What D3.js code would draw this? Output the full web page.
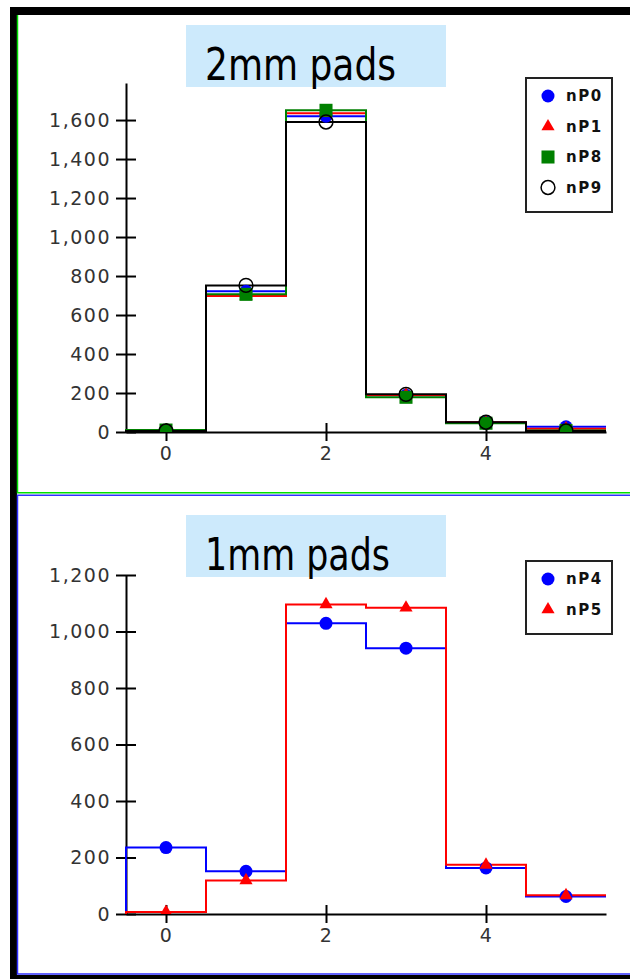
<!DOCTYPE html>
<html>
<head>
<meta charset="utf-8">
<script src="https://cdn.jsdelivr.net/npm/d3@7"></script>
<style>
  body { margin: 0; background: #fff; }
  svg { display: block; }
  .tick text { font-family: "DejaVu Sans", sans-serif; font-size: 19px; fill: #333; letter-spacing: 1.5px; }
  .legend text { font-family: "DejaVu Sans", sans-serif; font-weight: bold; font-size: 15px; letter-spacing: 1.5px; fill: #111; }
</style>
</head>
<body>
<svg width="630" height="979"></svg>
<script>
// bin centres and tick labels
const bins = [0, 1, 2, 3, 4, 5];
const xTicks = [0, 2, 4];
const topTicks = [0, 200, 400, 600, 800, 1000, 1200, 1400, 1600];
const bottomTicks = [0, 200, 400, 600, 800, 1000, 1200];

// 2mm pads
const nP0 = [5, 722, 1620, 188, 50, 27];
const nP1 = [5, 697, 1635, 190, 50, 17];
const nP8 = [10, 706, 1650, 178, 45, 8];
const nP9 = [5, 752, 1590, 193, 50, 5];

// 1mm pads
const nP4 = [235, 151, 1029, 941, 163, 62];
const nP5 = [7, 119, 1096, 1084, 174, 66];

const svg = d3.select('svg');

// outer frame
svg.append('rect').attr('x', 10).attr('y', 7).attr('width', 620).attr('height', 8).attr('fill', '#000');
svg.append('rect').attr('x', 10).attr('y', 7).attr('width', 7).attr('height', 972).attr('fill', '#000');
svg.append('rect').attr('x', 10).attr('y', 975).attr('width', 620).attr('height', 4).attr('fill', '#000');
svg.append('path').attr('d', 'M17.5,15V492.7H630').attr('fill', 'none').attr('stroke', '#00e000').attr('stroke-width', 1.5);
svg.append('path').attr('d', 'M630,495.3H17.5V974H630').attr('fill', 'none').attr('stroke', '#3030ff').attr('stroke-width', 1.5);

const symbolOf = {
  circle: d3.symbol().type(d3.symbolCircle).size(133),
  triangle: d3.symbol().type(d3.symbolTriangle).size(75),
  square: d3.symbol().type(d3.symbolSquare).size(170),
  ring: d3.symbol().type(d3.symbolCircle).size(150)
};

function drawMarker(g, shape, color) {
  return g.append('path')
    .attr('d', symbolOf[shape]())
    .attr('fill', shape === 'ring' ? 'none' : color)
    .attr('stroke', shape === 'ring' ? '#000' : null)
    .attr('stroke-width', 1.5);
}

function panel(opt) {
  const x = d3.scaleLinear().domain([-0.5, 5.5]).range([126, 606]);
  const y = d3.scaleLinear().domain([0, opt.yMax]).range([opt.y0, opt.y1]);

  // title box
  svg.append('rect')
    .attr('x', 186).attr('y', opt.titleY)
    .attr('width', 260).attr('height', 62)
    .attr('fill', '#cdeafc');
  svg.append('text')
    .attr('x', 205).attr('y', opt.titleY + 55)
    .attr('textLength', opt.titleW).attr('lengthAdjust', 'spacingAndGlyphs')
    .style('font-family', '"DejaVu Sans", sans-serif')
    .style('font-size', '44px')
    .attr('fill', '#000')
    .text(opt.title);

  // axes
  const yAxis = svg.append('g')
    .attr('transform', 'translate(126,0)')
    .call(d3.axisLeft(y).tickValues(opt.ticks).tickSize(10).tickSizeOuter(0).tickPadding(5).tickFormat(d3.format(',')));
  yAxis.selectAll('.tick line').attr('x1', 10);

  const xAxis = svg.append('g')
    .attr('transform', `translate(0,${opt.y0})`)
    .call(d3.axisBottom(x).tickValues(xTicks).tickSize(9).tickSizeOuter(0).tickPadding(6).tickFormat(d3.format('d')));
  xAxis.selectAll('.tick line').attr('y1', -9);

  [yAxis, xAxis].forEach(a => {
    a.select('.domain').attr('stroke', '#000').attr('stroke-width', 2);
    a.selectAll('.tick line').attr('stroke', '#000').attr('stroke-width', 2);
  });

  // clip to plot area
  const clipId = 'clip' + opt.y0;
  svg.append('clipPath').attr('id', clipId)
    .append('rect')
    .attr('x', 125).attr('y', opt.y1 - 30)
    .attr('width', 485).attr('height', opt.y0 - opt.y1 + 30);

  const plot = svg.append('g').attr('clip-path', `url(#${clipId})`);

  const line = d3.line().x(d => x(d[0])).y(d => y(d[1]));

  opt.series.forEach(s => {
    let pts = [[-0.5, 0]];
    bins.forEach((b, i) => {
      pts.push([b - 0.5, s.values[i]]);
      pts.push([b + 0.5, s.values[i]]);
    });
    plot.append('path')
      .attr('d', line(pts))
      .attr('fill', 'none')
      .attr('stroke', s.color)
      .attr('stroke-width', 2);
  });

  opt.series.forEach(s => {
    bins.forEach((b, i) => {
      drawMarker(plot, s.shape, s.color)
        .attr('transform', `translate(${x(b)},${y(s.values[i])})`);
    });
  });

  // legend
  const legend = svg.append('g').attr('class', 'legend');
  legend.append('rect')
    .attr('x', 526).attr('y', opt.legendY)
    .attr('width', 86).attr('height', opt.series.length * 30.5 + 12)
    .attr('fill', '#fff').attr('stroke', '#222').attr('stroke-width', 2);
  opt.series.forEach((s, i) => {
    const cy = opt.legendY + 18 + i * 30.5;
    drawMarker(legend, s.shape, s.color)
      .attr('transform', `translate(548,${cy})`);
    legend.append('text')
      .attr('x', 566).attr('y', cy + 5)
      .text(s.name);
  });
}

panel({
  title: '2mm pads', titleY: 25, titleW: 191,
  y0: 432, y1: 83, yMax: 1790, ticks: topTicks,
  legendY: 78,
  series: [
    { name: 'nP0', values: nP0, color: '#0000ff', shape: 'circle' },
    { name: 'nP1', values: nP1, color: '#ff0000', shape: 'triangle' },
    { name: 'nP8', values: nP8, color: '#008000', shape: 'square' },
    { name: 'nP9', values: nP9, color: '#000000', shape: 'ring' }
  ]
});

panel({
  title: '1mm pads', titleY: 515, titleW: 185,
  y0: 914, y1: 575, yMax: 1200, ticks: bottomTicks,
  legendY: 561,
  series: [
    { name: 'nP4', values: nP4, color: '#0000ff', shape: 'circle' },
    { name: 'nP5', values: nP5, color: '#ff0000', shape: 'triangle' }
  ]
});
</script>
</body>
</html>
